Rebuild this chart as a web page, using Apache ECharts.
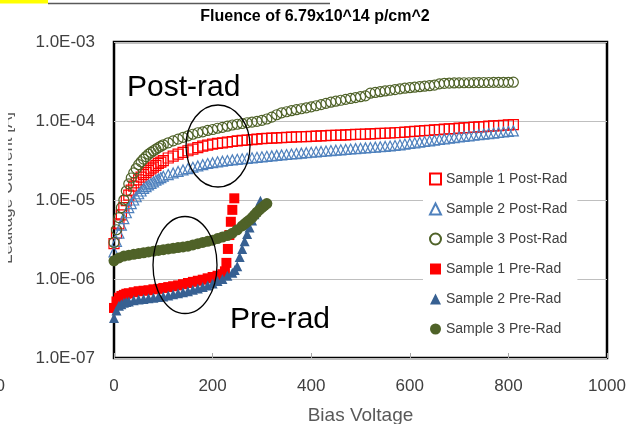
<!DOCTYPE html>
<html>
<head>
<meta charset="utf-8">
<script src="https://cdn.jsdelivr.net/npm/echarts@6/dist/echarts.min.js"></script>
<style>
html,body{margin:0;padding:0;background:#fff;}
#chart{width:633px;height:424px;}
</style>
</head>
<body>
<div id="chart"></div>
<script>
// ---- Data ----
const titleText = 'Fluence of 6.79x10^14 p/cm^2';
const xAxisName = 'Bias Voltage';
const yAxisName = 'Leakage Current [A]';
const seriesNames = ['Sample 1 Post-Rad','Sample 2 Post-Rad','Sample 3 Post-Rad','Sample 1 Pre-Rad','Sample 2 Pre-Rad','Sample 3 Pre-Rad'];

const postVolts = [0,5,10,15,20,25,30,35,40,45,50,55,60,65,70,75,80,85,90,95,100,110,120,130,140,150,160,170,180,190,200,210,220,230,240,250,260,270,280,290,300,310,320,330,340,350,360,370,380,390,400,410,420,430,440,450,460,470,480,490,500,510,520,530,540,550,560,570,580,590,600,610,620,630,640,650,660,670,680,690,700,710,720,730,740,750,760,770,780,790,800,810];

const s1Post = [2.8e-6,3.8e-6,5.0e-6,6.5e-6,8.0e-6,9.8e-6,1.15e-5,1.33e-5,1.5e-5,1.65e-5,1.8e-5,1.95e-5,2.1e-5,2.22e-5,2.35e-5,2.48e-5,2.6e-5,2.75e-5,2.9e-5,3.02e-5,3.15e-5,3.4e-5,3.6e-5,3.8e-5,4.0e-5,4.2e-5,4.4e-5,4.6e-5,4.8e-5,4.95e-5,5.1e-5,5.2e-5,5.3e-5,5.4e-5,5.5e-5,5.6e-5,5.7e-5,5.75e-5,5.8e-5,5.9e-5,6.0e-5,6.04e-5,6.08e-5,6.12e-5,6.16e-5,6.2e-5,6.24e-5,6.28e-5,6.32e-5,6.36e-5,6.4e-5,6.44e-5,6.48e-5,6.52e-5,6.56e-5,6.6e-5,6.64e-5,6.68e-5,6.72e-5,6.76e-5,6.8e-5,6.84e-5,6.88e-5,6.92e-5,6.96e-5,7.0e-5,7.05e-5,7.1e-5,7.15e-5,7.23e-5,7.31e-5,7.39e-5,7.47e-5,7.55e-5,7.63e-5,7.71e-5,7.79e-5,7.87e-5,7.95e-5,8.03e-5,8.11e-5,8.19e-5,8.27e-5,8.35e-5,8.43e-5,8.51e-5,8.59e-5,8.67e-5,8.75e-5,8.83e-5,8.91e-5,9.0e-5];

const s2Post = [2.2e-6,3.0e-6,3.8e-6,4.8e-6,5.8e-6,6.9e-6,8.0e-6,9.0e-6,1.0e-5,1.1e-5,1.2e-5,1.3e-5,1.4e-5,1.48e-5,1.55e-5,1.62e-5,1.7e-5,1.78e-5,1.85e-5,1.92e-5,2.0e-5,2.1e-5,2.2e-5,2.3e-5,2.4e-5,2.5e-5,2.6e-5,2.7e-5,2.8e-5,2.9e-5,2.97e-5,3.04e-5,3.1e-5,3.16e-5,3.22e-5,3.27e-5,3.32e-5,3.37e-5,3.42e-5,3.47e-5,3.52e-5,3.57e-5,3.62e-5,3.67e-5,3.72e-5,3.77e-5,3.82e-5,3.87e-5,3.92e-5,3.97e-5,4.02e-5,4.07e-5,4.12e-5,4.17e-5,4.22e-5,4.27e-5,4.32e-5,4.37e-5,4.42e-5,4.47e-5,4.52e-5,4.57e-5,4.62e-5,4.67e-5,4.72e-5,4.77e-5,4.83e-5,4.9e-5,5.0e-5,5.1e-5,5.2e-5,5.3e-5,5.4e-5,5.5e-5,5.61e-5,5.72e-5,5.83e-5,5.94e-5,6.05e-5,6.16e-5,6.27e-5,6.38e-5,6.49e-5,6.6e-5,6.71e-5,6.82e-5,6.93e-5,7.04e-5,7.15e-5,7.26e-5,7.37e-5,7.5e-5];

const s3Post = [2.9e-6,4.2e-6,6.0e-6,8.0e-6,1.0e-5,1.3e-5,1.6e-5,1.9e-5,2.2e-5,2.5e-5,2.8e-5,3.05e-5,3.3e-5,3.55e-5,3.8e-5,4.0e-5,4.2e-5,4.4e-5,4.6e-5,4.8e-5,5.0e-5,5.3e-5,5.6e-5,5.9e-5,6.2e-5,6.5e-5,6.8e-5,7.1e-5,7.3e-5,7.6e-5,7.8e-5,8.1e-5,8.3e-5,8.6e-5,8.9e-5,9.1e-5,9.3e-5,9.5e-5,9.7e-5,9.9e-5,1.02e-4,1.06e-4,1.12e-4,1.2e-4,1.27e-4,1.31e-4,1.35e-4,1.39e-4,1.43e-4,1.47e-4,1.51e-4,1.56e-4,1.61e-4,1.67e-4,1.73e-4,1.78e-4,1.83e-4,1.88e-4,1.93e-4,1.98e-4,2.03e-4,2.08e-4,2.25e-4,2.3e-4,2.35e-4,2.4e-4,2.45e-4,2.5e-4,2.55e-4,2.6e-4,2.64e-4,2.68e-4,2.72e-4,2.76e-4,2.8e-4,2.85e-4,2.95e-4,3.0e-4,3.02e-4,3.03e-4,3.04e-4,3.05e-4,3.05e-4,3.06e-4,3.06e-4,3.07e-4,3.07e-4,3.08e-4,3.08e-4,3.09e-4,3.09e-4,3.1e-4];

const s1PreVolts = [0,5,10,15,20,25,30,40,50,60,70,80,90,100,110,120,130,140,150,160,170,180,190,200,210,220,225,228,231,234,237,240,244];
const s1Pre = [4.3e-7,5.2e-7,5.8e-7,6.1e-7,6.3e-7,6.5e-7,6.6e-7,6.8e-7,7.0e-7,7.1e-7,7.2e-7,7.4e-7,7.5e-7,7.7e-7,7.9e-7,8.1e-7,8.3e-7,8.6e-7,8.9e-7,9.2e-7,9.5e-7,9.8e-7,1.02e-6,1.06e-6,1.1e-6,1.15e-6,1.25e-6,1.6e-6,2.4e-6,3.6e-6,5.3e-6,7.5e-6,1.05e-5];

const s2PreVolts = [0,5,10,15,20,25,30,40,50,60,70,80,90,100,110,120,130,140,150,160,170,180,190,200,210,220,230,240,245,250,255,260,265,270,275,280,285,290,297];
const s2Pre = [3.2e-7,4.0e-7,4.6e-7,4.8e-7,5.0e-7,5.1e-7,5.2e-7,5.4e-7,5.5e-7,5.6e-7,5.7e-7,5.8e-7,5.9e-7,6.0e-7,6.2e-7,6.4e-7,6.6e-7,6.8e-7,7.0e-7,7.3e-7,7.6e-7,7.9e-7,8.3e-7,8.8e-7,9.4e-7,1.0e-6,1.1e-6,1.2e-6,1.3e-6,1.45e-6,1.9e-6,2.4e-6,3.0e-6,3.7e-6,4.5e-6,5.5e-6,6.6e-6,7.8e-6,9.8e-6];

const s3PreVolts = [0,10,20,30,40,50,60,70,80,90,100,110,120,130,140,150,160,170,180,190,200,210,220,230,240,250,260,265,270,275,280,285,290,295,300,305,310];
const s3Pre = [1.7e-6,1.85e-6,1.95e-6,2.0e-6,2.05e-6,2.1e-6,2.15e-6,2.2e-6,2.25e-6,2.3e-6,2.35e-6,2.4e-6,2.45e-6,2.5e-6,2.55e-6,2.6e-6,2.7e-6,2.8e-6,2.9e-6,3.0e-6,3.1e-6,3.25e-6,3.4e-6,3.55e-6,3.8e-6,4.2e-6,4.7e-6,5.0e-6,5.3e-6,5.6e-6,6.0e-6,6.5e-6,7.0e-6,7.5e-6,8.0e-6,8.5e-6,9.0e-6];

const xTicks = [0,200,400,600,800,1000];
const yTickValues = [1e-7,1e-6,1e-5,1e-4,1e-3];

// ---- build ----
function zip(xs, ys){ return xs.map((x,i)=>[x, ys[i]]); }
function expLabel(v){
  const e = Math.round(Math.log10(v));
  const a = Math.abs(e);
  return '1.0E' + (e < 0 ? '-' : '+') + (a < 10 ? '0' + a : '' + a);
}
const FONT = "'Liberation Sans', Arial, sans-serif";

function hollow(name, xs, ys, symbol, color, size){
  return { name, type:'scatter', data: zip(xs, ys), symbol, symbolSize: size,
    itemStyle:{ color:'rgba(255,255,255,0)', borderColor: color, borderWidth: 1.2, opacity: 1 },
    emphasis:{disabled:true} };
}
function filled(name, xs, ys, symbol, color, size){
  return { name, type:'scatter', data: zip(xs, ys), symbol, symbolSize: size,
    itemStyle:{ color: color, opacity: 1 }, emphasis:{disabled:true} };
}

const chart = echarts.init(document.getElementById('chart'), null, {renderer:'canvas'});
chart.setOption({
  animation:false,
  backgroundColor:'#fff',
  textStyle:{fontFamily: FONT},
  grid:{ left:114, right:26, top:42, bottom:66, containLabel:false, outerBoundsMode:'none',
    show:true, borderColor:'#000', borderWidth:2.5, backgroundColor:'rgba(0,0,0,0)' },
  xAxis:{
    type:'value', min: xTicks[0], max: xTicks[xTicks.length-1], interval: 200,
    name: xAxisName, nameLocation:'middle', nameGap: 48,
    nameTextStyle:{ fontSize:19, color:'#595959', fontFamily: FONT },
    axisLine:{show:false},
    axisTick:{show:true, inside:true, length:5, lineStyle:{color:'#A6A6A6', width:1}},
    axisLabel:{ fontSize:17, color:'#404040', margin:20, fontFamily: FONT, formatter: v => String(v) },
    splitLine:{show:false}
  },
  yAxis:{
    type:'log', logBase:10, min: yTickValues[0], max: yTickValues[yTickValues.length-1],
    name: yAxisName, nameLocation:'middle', nameGap: 98,
    nameTextStyle:{ fontSize:17, color:'#595959', fontFamily: FONT, padding:[0,0,0,24] },
    axisLine:{show:false}, axisTick:{show:false},
    axisLabel:{ fontSize:17, color:'#404040', margin:19, fontFamily: FONT, formatter: expLabel },
    splitLine:{ show:true, lineStyle:{ color:'#BFBFBF', width:1 } }
  },
  legend:{
    orient:'vertical', left:423, top:165, width:155,
    backgroundColor:'#fff', padding:[7,10,7,6],
    itemWidth:11, itemHeight:11, itemGap:16,
    textStyle:{ fontSize:14, color:'#404040', fontFamily: FONT, lineHeight:14 },
    data: seriesNames
  },
  series:[
    hollow(seriesNames[0], postVolts, s1Post, 'rect', '#FF0000', 10),
    hollow(seriesNames[1], postVolts, s2Post, 'triangle', '#4F81BD', 10),
    hollow(seriesNames[2], postVolts, s3Post, 'circle', '#4F6228', 10),
    filled(seriesNames[3], s1PreVolts, s1Pre, 'rect', '#FF0000', 10),
    filled(seriesNames[4], s2PreVolts, s2Pre, 'triangle', '#376092', 10),
    filled(seriesNames[5], s3PreVolts, s3Pre, 'circle', '#4F6228', 11)
  ],
  graphic:[
    { type:'rect', shape:{x:0,y:0,width:48,height:3.5}, style:{fill:'#FFFF00'}, silent:true },
    { type:'line', shape:{x1:48,y1:3.5,x2:330,y2:3.5}, style:{stroke:'#595959', lineWidth:1.5}, silent:true },
    { type:'text', x:315, y:17, silent:true,
      style:{ text: titleText, font:"bold 16px 'Liberation Sans', Arial, sans-serif", fill:'#000', align:'center', verticalAlign:'middle' } },
    { type:'text', x:127, y:87.5, z:100, silent:true,
      style:{ text:'Post-rad', font:"30px 'Liberation Sans', Arial, sans-serif", fill:'#000', align:'left', verticalAlign:'middle' } },
    { type:'text', x:230, y:320, z:100, silent:true,
      style:{ text:'Pre-rad', font:"30px 'Liberation Sans', Arial, sans-serif", fill:'#000', align:'left', verticalAlign:'middle' } },
    { type:'ellipse', z:100, silent:true, shape:{cx:218, cy:146, rx:32, ry:41}, style:{fill:'none', stroke:'#000', lineWidth:1.3} },
    { type:'ellipse', z:100, silent:true, shape:{cx:185, cy:265, rx:32, ry:48.5}, style:{fill:'none', stroke:'#000', lineWidth:1.3} },
    { type:'rect', z:100, silent:true, shape:{x:0,y:90,width:8,height:200}, style:{fill:'#fff'} },
    { type:'text', x:5, y:386, silent:true,
      style:{ text:'0', font:"17px 'Liberation Sans', Arial, sans-serif", fill:'#404040', align:'right', verticalAlign:'middle' } }
  ]
});
</script>
</body>
</html>
